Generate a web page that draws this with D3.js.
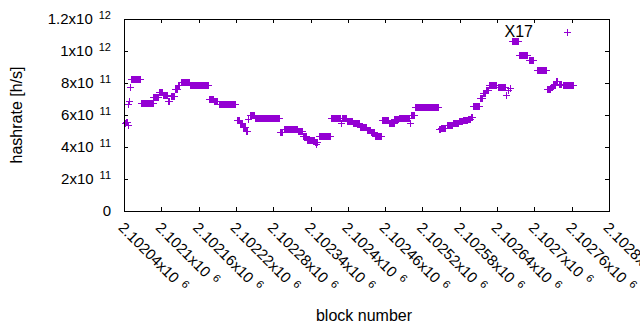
<!DOCTYPE html>
<html>
<head>
<meta charset="utf-8">
<script src="https://cdn.jsdelivr.net/npm/d3@7"></script>
<style>
  body { margin: 0; background: #fff; }
  text { font-family: "Liberation Sans", Arial, sans-serif; fill: #000; }
</style>
</head>
<body>
<script>
// runs of blocks with the same hashrate: [first block, last block, hashrate in 1e11 h/s]
const runs = [
  [2102042, 2102042, 5.47], [2102044, 2102045, 5.54], [2102046, 2102046, 5.37],
  [2102047, 2102047, 6.69], [2102048, 2102048, 6.90], [2102050, 2102050, 7.77],
  [2102051, 2102065, 8.28], [2102067, 2102082, 6.75], [2102083, 2102086, 6.72],
  [2102087, 2102095, 7.15], [2102097, 2102101, 7.43], [2102102, 2102109, 7.25],
  [2102111, 2102113, 6.90], [2102115, 2102121, 7.20], [2102122, 2102126, 7.62],
  [2102127, 2102129, 7.85], [2102131, 2102145, 8.06], [2102146, 2102175, 7.88],
  [2102177, 2102183, 7.00], [2102185, 2102189, 6.85], [2102193, 2102219, 6.69],
  [2102221, 2102225, 5.69], [2102226, 2102230, 5.50], [2102231, 2102235, 5.25],
  [2102237, 2102238, 4.98], [2102239, 2102240, 5.73], [2102242, 2102249, 6.02],
  [2102251, 2102290, 5.81], [2102291, 2102294, 4.92], [2102297, 2102307, 5.12],
  [2102308, 2102318, 5.15], [2102320, 2102326, 4.97], [2102328, 2102332, 4.69],
  [2102334, 2102345, 4.45], [2102347, 2102348, 4.34], [2102349, 2102349, 4.17],
  [2102350, 2102351, 4.34], [2102353, 2102371, 4.69], [2102373, 2102387, 5.80],
  [2102389, 2102389, 5.48], [2102390, 2102397, 5.80], [2102399, 2102407, 5.60],
  [2102409, 2102418, 5.47], [2102420, 2102429, 5.25], [2102430, 2102435, 5.06],
  [2102437, 2102442, 4.94], [2102444, 2102453, 4.69], [2102455, 2102464, 5.69],
  [2102466, 2102474, 5.50], [2102475, 2102480, 5.72], [2102482, 2102488, 5.80],
  [2102490, 2102498, 5.84], [2102500, 2102500, 5.48], [2102501, 2102506, 6.00],
  [2102508, 2102545, 6.53], [2102546, 2102549, 5.12], [2102550, 2102557, 5.19],
  [2102559, 2102567, 5.37], [2102569, 2102577, 5.50], [2102578, 2102583, 5.60],
  [2102585, 2102591, 5.68], [2102593, 2102596, 5.78], [2102598, 2102599, 5.90],
  [2102602, 2102611, 6.56], [2102612, 2102616, 7.06], [2102617, 2102620, 7.40],
  [2102622, 2102625, 7.56], [2102627, 2102639, 7.87], [2102641, 2102652, 7.72],
  [2102655, 2102655, 7.25], [2102657, 2102658, 7.56], [2102660, 2102660, 7.67],
  [2102664, 2102673, 10.6], [2102676, 2102688, 9.75], [2102691, 2102697, 9.42],
  [2102704, 2102718, 8.80], [2102720, 2102725, 7.62], [2102726, 2102729, 7.75],
  [2102730, 2102733, 7.87], [2102735, 2102737, 8.12], [2102739, 2102742, 7.94],
  [2102746, 2102762, 7.87]
];

const xTickValues = [2102040, 2102100, 2102160, 2102220, 2102280, 2102340, 2102400,
                     2102460, 2102520, 2102580, 2102640, 2102700, 2102760, 2102820];
const xTickLabels = ["2.10204", "2.1021", "2.10216", "2.10222", "2.10228", "2.10234", "2.1024",
                     "2.10246", "2.10252", "2.10258", "2.10264", "2.1027", "2.10276", "2.1028"];
const xTickExp = "6";

const yTickValues = [0, 2e11, 4e11, 6e11, 8e11, 1e12, 1.2e12];
const yTickLabels = ["0", "2x10", "4x10", "6x10", "8x10", "1x10", "1.2x10"];
const yTickExp = ["", "11", "11", "11", "11", "12", "12"];

const seriesName = "X17";
const color = "#9400d3";

const width = 640, height = 330;
const margin = {left: 124, right: 31, top: 19, bottom: 119};

const points = runs.flatMap(([a, b, v]) => d3.range(a, b + 1).map(block => ({block, rate: v * 1e11})));

const x = d3.scaleLinear()
    .domain([xTickValues[0], xTickValues[xTickValues.length - 1]])
    .range([margin.left, width - margin.right]);

const y = d3.scaleLinear()
    .domain([0, 1.2e12])
    .range([height - margin.bottom, margin.top]);

const svg = d3.select("body").append("svg")
    .attr("width", width)
    .attr("height", height)
    .attr("font-size", 15);

const plus = "M-3.5,0H3.5M0,-3.5V3.5";

// points
svg.append("g")
    .attr("fill", "none")
    .attr("stroke", color)
    .attr("shape-rendering", "crispEdges")
  .selectAll("path")
  .data(points)
  .join("path")
    .attr("transform", d => `translate(${Math.round(x(d.block)) + 0.5},${Math.round(y(d.rate)) + 0.5})`)
    .attr("d", plus);

// box with inward ticks
const axisStyle = g => g
    .attr("shape-rendering", "crispEdges")
    .call(g => g.selectAll("text").remove())
    .call(g => g.selectAll("path, line").attr("stroke", "#000"));

const y0 = y(0), y1 = y(1.2e12);
svg.append("g").attr("transform", `translate(0,${y0})`)
    .call(d3.axisBottom(x).tickValues(xTickValues).tickSizeInner(-4).tickSizeOuter(0)).call(axisStyle);
svg.append("g").attr("transform", `translate(0,${y1})`)
    .call(d3.axisTop(x).tickValues(xTickValues).tickSizeInner(-4).tickSizeOuter(0)).call(axisStyle);
svg.append("g").attr("transform", `translate(${x.range()[0]},0)`)
    .call(d3.axisLeft(y).tickValues(yTickValues).tickSizeInner(-4).tickSizeOuter(0)).call(axisStyle);
svg.append("g").attr("transform", `translate(${x.range()[1]},0)`)
    .call(d3.axisRight(y).tickValues(yTickValues).tickSizeInner(-4).tickSizeOuter(0)).call(axisStyle);

// y tick labels
const yl = svg.append("g")
  .selectAll("text")
  .data(yTickValues)
  .join("text")
    .attr("x", 111)
    .attr("y", d => y(d) + 5)
    .attr("text-anchor", "end");
yl.append("tspan").text((d, i) => yTickLabels[i]);
yl.filter((d, i) => yTickExp[i])
  .append("tspan")
    .attr("dx", 6)
    .attr("dy", -5)
    .attr("font-size", 11)
    .text(d => yTickExp[yTickValues.indexOf(d)]);

// x tick labels, rotated
const xl = svg.append("g")
  .selectAll("text")
  .data(xTickValues)
  .join("text")
    .attr("transform", d => `translate(${x(d) - 3},${y0 + 14}) rotate(45)`)
    .attr("y", 5);
xl.append("tspan").text((d, i) => xTickLabels[i] + "x10");
xl.append("tspan")
    .attr("dx", 6)
    .attr("dy", -5)
    .attr("font-size", 11)
    .text(xTickExp);

// axis titles
svg.append("text")
    .attr("transform", `translate(22,${(y0 + y1) / 2}) rotate(-90)`)
    .attr("text-anchor", "middle")
    .attr("font-size", 16)
    .text("hashrate [h/s]");

svg.append("text")
    .attr("x", 364)
    .attr("y", 321)
    .attr("text-anchor", "middle")
    .attr("font-size", 16)
    .text("block number");

// key
svg.append("text")
    .attr("x", 533)
    .attr("y", 37)
    .attr("text-anchor", "end")
    .attr("font-size", 16)
    .text(seriesName);
svg.append("path")
    .attr("transform", "translate(567.5,32.5)")
    .attr("d", plus)
    .attr("fill", "none")
    .attr("stroke", color)
    .attr("shape-rendering", "crispEdges");
</script>
</body>
</html>
